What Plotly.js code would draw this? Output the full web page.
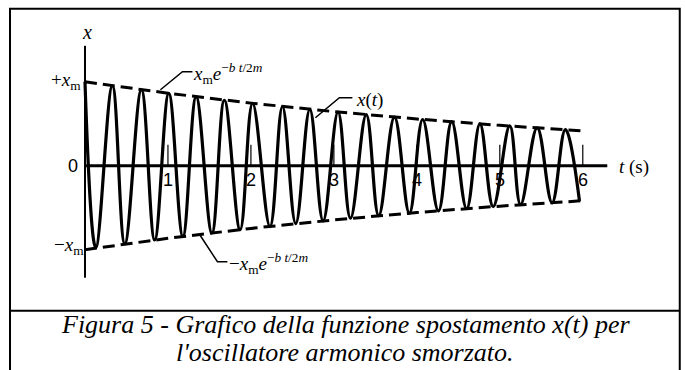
<!DOCTYPE html>
<html>
<head>
<meta charset="utf-8">
<script src="https://cdn.plot.ly/plotly-3.0.1.min.js"></script>
<style>
  html, body { margin: 0; padding: 0; background: #fff; }
  #chart { width: 685px; height: 370px; }
</style>
</head>
<body>
<div id="chart"></div>
<script>
// Damped oscillator: successive extrema of x(t), t in s, x in units of x_m
const extremaT = [0.00, 0.13, 0.33, 0.48, 0.68, 0.84, 1.01, 1.18, 1.34, 1.53, 1.68, 1.87,
                  2.02, 2.23, 2.38, 2.54, 2.71, 2.87, 3.05, 3.20, 3.39, 3.54, 3.73, 3.91,
                  4.07, 4.26, 4.42, 4.60, 4.76, 4.92, 5.12, 5.25, 5.45, 5.63, 5.79, 5.96];
const extremaX = [1.000, -0.976, 0.952, -0.928, 0.905, -0.883, 0.862, -0.841, 0.820, -0.800, 0.780, -0.761,
                  0.742, -0.724, 0.706, -0.689, 0.672, -0.656, 0.640, -0.624, 0.609, -0.594, 0.579, -0.565,
                  0.551, -0.538, 0.525, -0.512, 0.499, -0.487, 0.475, -0.463, 0.452, -0.441, 0.430, -0.420];

// Envelope x_m e^{-bt/2m}
const envT = [0, 1, 2, 3, 4, 5, 6];
const envX = [1.000, 0.864, 0.746, 0.645, 0.557, 0.481, 0.416];

// Time axis ticks
const tickT = [1, 2, 3, 4, 5, 6];
const tickLabels = ['1', '2', '3', '4', '5', '6'];

// ---- geometry (pixels) ----
const W = 685, H = 370;
const PXX = 83, T0 = 84.5;     // px per second, px of t = 0
const PXY = 84, Y0 = 166;      // px per x_m, px of x = 0
const xr = [-0.06, 6.34];
const yr = [-1.42, 1.45];
const L = T0 + xr[0] * PXX, R = T0 + xr[1] * PXX;
const TOP = Y0 - yr[1] * PXY, BOT = Y0 - yr[0] * PXY;
const fx = px => (px - L) / (R - L);
const fy = py => (BOT - py) / (BOT - TOP);
const dt = px => (px - T0) / PXX;
const dx = py => (Y0 - py) / PXY;

const serif = 'Liberation Serif';
const sans = 'Liberation Sans';
const ink = '#000';

const traces = [
  { x: envT, y: envX, mode: 'lines', line: { color: ink, width: 3, dash: '12px,6px' }, hoverinfo: 'skip' },
  { x: envT, y: envX.map(v => -v), mode: 'lines', line: { color: ink, width: 3, dash: '12px,6px' }, hoverinfo: 'skip' },
  { x: extremaT, y: extremaX, mode: 'lines', line: { color: ink, width: 3.2, shape: 'spline', smoothing: 1.1 }, hoverinfo: 'skip' }
];

const shapes = [
  // time axis and displacement axis
  { type: 'line', xref: 'x', yref: 'y', x0: 0, x1: dt(607), y0: 0, y1: 0, line: { color: ink, width: 3 } },
  { type: 'line', xref: 'x', yref: 'y', x0: 0, x1: 0, y0: dx(278), y1: dx(46), line: { color: ink, width: 2 } },
  // leader lines for the labels
  { type: 'path', xref: 'x', yref: 'y', line: { color: ink, width: 1.5 },
    path: `M ${dt(160)},${dx(90)} L ${dt(182)},${dx(72)} L ${dt(192)},${dx(72)}` },
  { type: 'path', xref: 'x', yref: 'y', line: { color: ink, width: 1.5 },
    path: `M ${dt(200)},${dx(236)} L ${dt(217)},${dx(262)} L ${dt(227)},${dx(262)}` },
  { type: 'path', xref: 'x', yref: 'y', line: { color: ink, width: 1.5 },
    path: `M ${dt(315)},${dx(118)} L ${dt(339)},${dx(98)} L ${dt(352)},${dx(98)}` },
  // figure frame with caption divider
  { type: 'rect', xref: 'paper', yref: 'paper', x0: fx(9.5), x1: fx(679.5), y0: fy(375), y1: fy(9),
    line: { color: ink, width: 2 }, fillcolor: 'rgba(0,0,0,0)' },
  { type: 'line', xref: 'paper', yref: 'paper', x0: fx(9.5), x1: fx(679.5), y0: fy(311), y1: fy(311),
    line: { color: ink, width: 2 } }
];
// small tick marks above the time axis
tickT.forEach(t => shapes.push({ type: 'line', xref: 'x', yref: 'y', x0: t, x1: t, y0: 0, y1: 0.25,
  line: { color: ink, width: 1.2 } }));

const annotations = [];
tickT.forEach((t, i) => annotations.push({
  x: t, y: 0, xref: 'x', yref: 'y', text: tickLabels[i], showarrow: false,
  xanchor: 'center', yanchor: 'top', yshift: -2, font: { family: sans, size: 18, color: ink }
}));

function label(text, px, py, xanchor, size, extra) {
  annotations.push(Object.assign({
    x: fx(px), y: fy(py), xref: 'paper', yref: 'paper', text: text, showarrow: false,
    xanchor: xanchor, yanchor: 'middle', font: { family: serif, size: size, color: ink }
  }, extra || {}));
}

// axis labels
label('<i>x</i>', 87, 32, 'center', 20);
label('<i>t</i> (s)', 617, 167, 'left', 19);
label('0', 80, 166, 'right', 18, { font: { family: sans, size: 18, color: ink } });
label('+<i>x</i><sub>m</sub>', 83, 81, 'right', 19);
label('−<i>x</i><sub>m</sub>', 86, 246, 'right', 19);

// curve labels
label('<i>x</i><sub>m</sub><i>e</i><sup>−<i>b t</i>/2<i>m</i></sup>', 191, 74, 'left', 19);
label('−<i>x</i><sub>m</sub><i>e</i><sup>−<i>b t</i>/2<i>m</i></sup>', 227, 264, 'left', 19);
label('<i>x</i>(<i>t</i>)', 354, 100, 'left', 19);

// caption
const captionFont = { family: serif, size: 26, color: ink, style: 'italic' };
label('Figura 5 - Grafico della funzione spostamento x(t) per', 345, 325, 'center', 26, { font: captionFont });
label("l'oscillatore armonico smorzato.", 345, 353, 'center', 26, { font: captionFont });

const layout = {
  width: W, height: H,
  margin: { l: L, r: W - R, t: TOP, b: H - BOT, pad: 0 },
  paper_bgcolor: '#fff', plot_bgcolor: '#fff',
  showlegend: false,
  xaxis: { range: xr, visible: false, fixedrange: true },
  yaxis: { range: yr, visible: false, fixedrange: true },
  shapes: shapes,
  annotations: annotations
};

Plotly.newPlot('chart', traces, layout, { staticPlot: true, displayModeBar: false });
</script>
</body>
</html>
